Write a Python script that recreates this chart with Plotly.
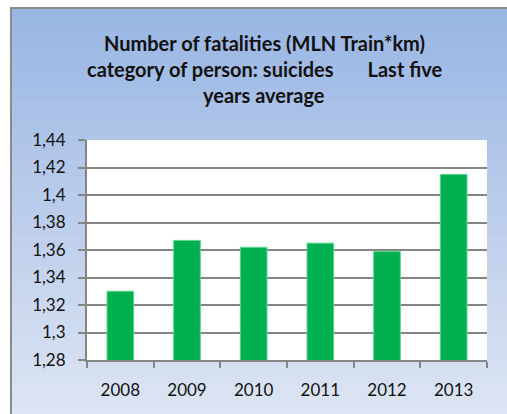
import plotly.graph_objects as go

years = ["2008", "2009", "2010", "2011", "2012", "2013"]
fatalities = [1.330, 1.367, 1.362, 1.365, 1.359, 1.415]
title_lines = [
    "Number of fatalities (MLN Train*km)",
    "category of person: suicides\u00a0\u00a0\u00a0\u00a0\u00a0\u00a0\u00a0Last five",
    "years average",
]

W, H = 507, 414
L, R, T, B = 87, 487, 140, 360  # plot area in pixels
pw, ph = R - L, B - T

def px_x(p):
    return (p - L) / pw

def px_y(p):
    return (B - p) / ph

def lerp(c1, c2, t):
    return "rgb(%d,%d,%d)" % tuple(round(a + (b - a) * t) for a, b in zip(c1, c2))

top_c = (152, 181, 227)
bot_c = (222, 229, 243)

shapes = []
y0, y1 = 8, H + 2
N = 90
step = (y1 - y0) / N
for i in range(N):
    a = y0 + i * step
    b = a + step + 0.6
    shapes.append(dict(type="rect", xref="paper", yref="paper", layer="below",
                       x0=px_x(10), x1=px_x(W + 2), y0=px_y(min(b, y1)), y1=px_y(a),
                       line=dict(width=0), fillcolor=lerp(top_c, bot_c, (i + 0.5) / N)))
# white plot area
shapes.append(dict(type="rect", xref="paper", yref="paper", layer="below",
                   x0=0, x1=1, y0=0, y1=1, line=dict(width=0), fillcolor="white"))
# outer border (left and top)
shapes.append(dict(type="line", xref="paper", yref="paper", layer="below",
                   x0=px_x(11), x1=px_x(W + 5), y0=px_y(8), y1=px_y(8),
                   line=dict(color="#8a8a8a", width=2)))
shapes.append(dict(type="line", xref="paper", yref="paper", layer="below",
                   x0=px_x(11), x1=px_x(11), y0=px_y(7), y1=px_y(H + 5),
                   line=dict(color="#8a8a8a", width=2)))

title_y = [43, 69, 95]
annotations = []
for txt, yy in zip(title_lines, title_y):
    annotations.append(dict(text="<b>" + txt + "</b>", xref="paper", yref="paper",
                            x=px_x(264), y=px_y(yy), xanchor="center", yanchor="middle",
                            showarrow=False, font=dict(family="Lato", size=20, color="#111111")))

fig = go.Figure(go.Bar(
    x=years, y=fatalities,
    marker=dict(color="#00B050", line=dict(color="#5ad690", width=1)),
))

fig.update_layout(
    width=W, height=H,
    margin=dict(l=L, r=W - R, t=T, b=H - B, pad=0),
    paper_bgcolor="white",
    plot_bgcolor="rgba(0,0,0,0)",
    separators=",.",
    bargap=0.6,
    showlegend=False,
    shapes=shapes,
    annotations=annotations,
    font=dict(family="Lato", size=17, color="#111111"),
)
fig.update_yaxes(
    range=[1.28, 1.44], dtick=0.02, tick0=1.28,
    showgrid=True, gridcolor="#858585", gridwidth=1.8,
    showline=True, linecolor="#858585", linewidth=2,
    ticks="outside", ticklen=7, tickcolor="#858585", tickwidth=2,
    ticklabelstandoff=9, zeroline=False,
)
fig.update_xaxes(
    type="category",
    showgrid=False,
    showline=True, linecolor="#858585", linewidth=2,
    ticks="outside", tickson="boundaries", ticklen=6, tickcolor="#858585", tickwidth=2,
    ticklabelstandoff=14,
)

fig.write_html("out.html",
               config={"displayModeBar": False},
               post_script="document.body.style.margin='0';document.body.style.overflow='hidden';")
